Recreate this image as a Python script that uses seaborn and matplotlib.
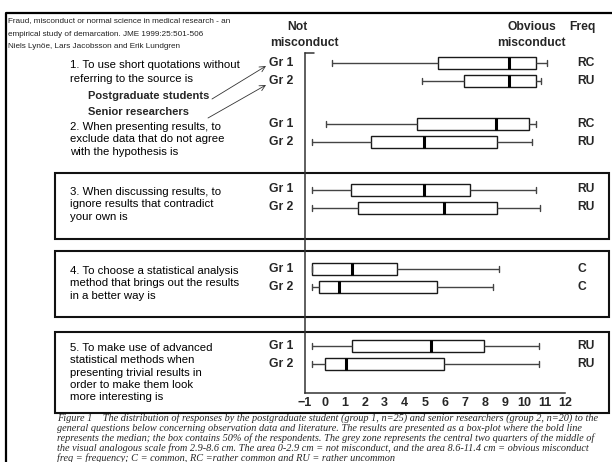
import matplotlib
matplotlib.use("Agg")
import matplotlib.pyplot as plt
import matplotlib.font_manager as fm
import numpy as np
import pandas as pd
import seaborn as sns

# values (visual analogue scale, -1 .. 12)
questions = [
    ["1. To use short quotations without", "referring to the source is"],
    ["2. When presenting results, to", "exclude data that do not agree", "with the hypothesis is"],
    ["3. When discussing results, to", "ignore results that contradict", "your own is"],
    ["4. To choose a statistical analysis", "method that brings out the results", "in a better way is"],
    ["5. To make use of advanced", "statistical methods when", "presenting trivial results in",
     "order to make them look", "more interesting is"],
]
groups = ["Gr 1", "Gr 2"]
freq = ["RC", "RU", "RC", "RU", "RU", "RU", "C", "C", "RU", "RU"]
whisk_lo = [0.35, 4.88, 0.07, -0.63, -0.63, -0.63, -0.62, -0.62, -0.62, -0.62]
q1 = [5.65, 6.97, 4.60, 2.33, 1.33, 1.65, -0.62, -0.30, 1.35, 0.02]
median = [9.23, 9.23, 8.57, 4.97, 4.97, 5.95, 1.35, 0.70, 5.30, 1.05]
q3 = [10.55, 10.55, 10.20, 8.60, 7.25, 8.60, 3.63, 5.62, 7.97, 5.95]
whisk_hi = [11.10, 10.83, 10.55, 10.35, 10.55, 10.75, 8.73, 8.42, 10.70, 10.70]
ticks = list(range(-1, 13))

header = [
    "Fraud, misconduct or normal science in medical research - an",
    "empirical study of demarcation. JME 1999:25:501-506",
    "Niels Lyn\u00f6e, Lars Jacobsson and Erik Lundgren",
]
caption = [
    "Figure 1    The distribution of responses by the postgraduate student (group 1, n=25) and senior researchers (group 2, n=20) to the",
    "general questions below concerning observation data and literature. The results are presented as a box-plot where the bold line",
    "represents the median; the box contains 50% of the respondents. The grey zone represents the central two quarters of the middle of",
    "the visual analogous scale from 2.9-8.6 cm. The area 0-2.9 cm = not misconduct, and the area 8.6-11.4 cm = obvious misconduct",
    "freq = frequency; C = common, RC =rather common and RU = rather uncommon",
]

# layout (pixel rows of the 612x462 canvas)
W, H = 612, 462
row_y = [63.3, 81.2, 124.2, 141.8, 189.5, 207.5, 269.2, 286.8, 346.2, 363.8]
q_first_y = [65, 126.7, 191.7, 270.7, 347.7]
q_step = [13.5, 12.5, 12.5, 12.5, 12.4]
boxes_around = [(172.7, 239.3), (250.7, 316.7), (332.0, 412.7)]
ax_left, ax_right, ax_top, ax_bottom = 304.7, 564.7, 53.3, 392.7

sns.set_style("white")
plt.rcParams["font.family"] = ["Liberation Sans", "DejaVu Sans"]
names = {f.name for f in fm.fontManager.ttflist}
head_font = "Liberation Sans Narrow" if "Liberation Sans Narrow" in names else "Liberation Sans"
head_size = 7.0 if head_font == "Liberation Sans Narrow" else 5.9

fig = plt.figure(figsize=(W / 100, H / 100), dpi=100)
bg = fig.add_axes([0, 0, 1, 1])
bg.set_xlim(0, W)
bg.set_ylim(H, 0)
bg.axis("off")

# page frame and boxes around questions 3-5
bg.plot([6, 6, W + 5], [H + 5, 12.5, 12.5], color="black", lw=1.6, solid_capstyle="butt")
for top, bot in boxes_around:
    bg.add_patch(plt.Rectangle((55, top), 554, bot - top, fill=False, ec="#111", lw=1.5))

for i, line in enumerate(header):
    bg.text(8, 21 + i * 13, line, family=head_font, fontsize=head_size, va="center", color="#222")

bg.text(297, 27, "Not", ha="center", va="center", fontsize=8.7, fontweight="bold")
bg.text(304, 43, "misconduct", ha="center", va="center", fontsize=8.7, fontweight="bold")
bg.text(532, 27, "Obvious", ha="center", va="center", fontsize=8.7, fontweight="bold")
bg.text(531, 43, "misconduct", ha="center", va="center", fontsize=8.7, fontweight="bold")
bg.text(582, 27, "Freq", ha="center", va="center", fontsize=8.7, fontweight="bold")

for lines, y0, step in zip(questions, q_first_y, q_step):
    for k, line in enumerate(lines):
        bg.text(70, y0 + k * step, line, fontsize=8.2, va="center", color="black")

bg.text(88, 96, "Postgraduate students", fontsize=8.0, fontweight="bold", va="center")
bg.text(88, 112, "Senior researchers", fontsize=8.0, fontweight="bold", va="center")
arrow = dict(arrowstyle="->", lw=0.6, color="#333", shrinkA=0, shrinkB=0)
bg.annotate("", xy=(266, 66), xytext=(212, 99), arrowprops=arrow)
bg.annotate("", xy=(266, 85), xytext=(208, 118), arrowprops=arrow)

for i, y in enumerate(row_y):
    bg.text(293, y, groups[i % 2], ha="right", va="center", fontsize=8.7, fontweight="bold")
    bg.text(577, y, freq[i], ha="left", va="center", fontsize=8.7, fontweight="bold")

for k, line in enumerate(caption):
    bg.text(57, 418.5 + k * 9.8, line, family="Liberation Serif", style="italic",
            fontsize=7.35, va="center")

# box plot axes
ax = fig.add_axes([ax_left / W, 1 - ax_bottom / H, (ax_right - ax_left) / W, (ax_bottom - ax_top) / H])
ax.patch.set_alpha(0)

records = []
for i, y in enumerate(row_y):
    for v in (whisk_lo[i], q1[i], median[i], q3[i], whisk_hi[i]):
        records.append({"score": v, "row": y})
df = pd.DataFrame(records)

min_gap = np.diff(sorted(row_y)).min()
sns.boxplot(data=df, x="score", y="row", orient="y", native_scale=True, whis=(0, 100),
            width=12 / min_gap, color="white", linecolor="#1a1a1a", linewidth=1.0, saturation=1,
            medianprops=dict(color="black", linewidth=2.2),
            whiskerprops=dict(color="#444", linewidth=1.0),
            capprops=dict(color="#444", linewidth=1.0), ax=ax)

ax.set_xlim(-1, 12)
ax.set_ylim(ax_bottom, ax_top)
ax.set_xlabel("")
ax.set_ylabel("")
ax.set_xticks(ticks)
ax.set_xticklabels([f"{t}".replace("-", "\u2212") for t in ticks], fontsize=9, fontweight="bold")
ax.tick_params(axis="x", direction="in", length=6, width=1.1, color="#333", pad=3)
ax.tick_params(axis="y", left=False, labelleft=False)
for side in ("top", "right"):
    ax.spines[side].set_visible(False)
for side in ("left", "bottom"):
    ax.spines[side].set_color("#333")
    ax.spines[side].set_linewidth(1.1)
ax.plot([-1, -0.55], [ax_top, ax_top], color="#333", lw=1.1, clip_on=False)

fig.savefig("out.png", dpi=100)
